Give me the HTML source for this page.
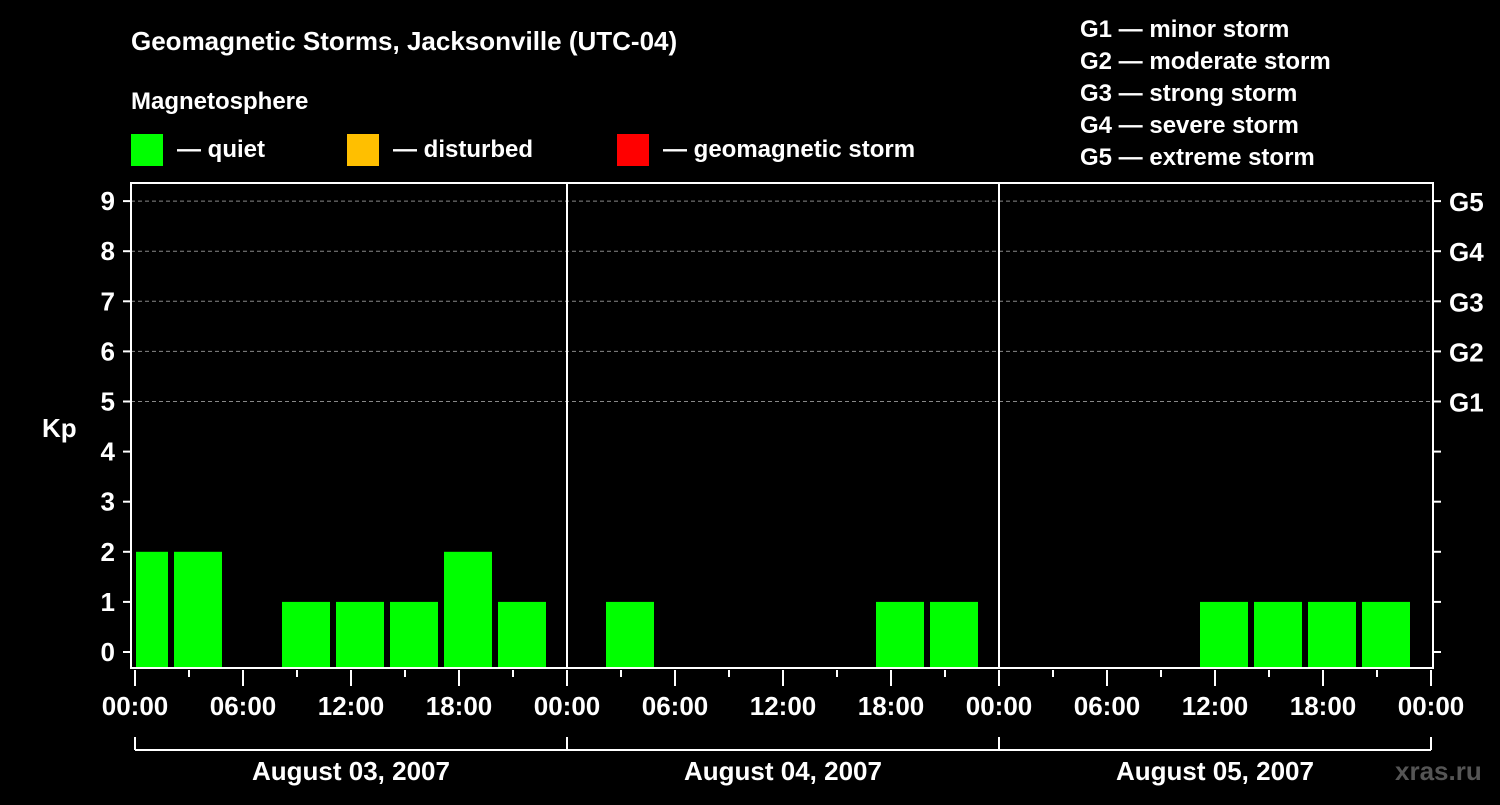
<!DOCTYPE html>
<html><head><meta charset="utf-8"><style>
body{margin:0;background:#000;}
svg text{font-family:"Liberation Sans",sans-serif;font-weight:bold;fill:#fff;}
</style></head><body>
<svg id="chart" width="1500" height="800" xmlns="http://www.w3.org/2000/svg">
<rect width="1500" height="800" fill="#000"/>
<text x="131" y="50" font-size="26">Geomagnetic Storms, Jacksonville (UTC-04)</text>
<text x="131" y="109" font-size="24">Magnetosphere</text>
<g><rect x="131" y="134" width="32" height="32" fill="#00ff00"/><text x="177" y="157" font-size="24">— quiet</text></g>
<g><rect x="347" y="134" width="32" height="32" fill="#ffbf00"/><text x="393" y="157" font-size="24">— disturbed</text></g>
<g><rect x="617" y="134" width="32" height="32" fill="#ff0000"/><text x="663" y="157" font-size="24">— geomagnetic storm</text></g>
<g font-size="24">
<text x="1080" y="37">G1 — minor storm</text>
<text x="1080" y="69">G2 — moderate storm</text>
<text x="1080" y="101">G3 — strong storm</text>
<text x="1080" y="133">G4 — severe storm</text>
<text x="1080" y="165">G5 — extreme storm</text>
</g>
<text x="42" y="437" font-size="26">Kp</text>
<text x="1395" y="780" font-size="26" fill="#555" style="fill:#555">xras.ru</text>
<g id="grid"></g><g id="bars"></g><g id="axes"></g>
</svg>
<script>
const kpValues=[2,2,0,1,1,1,2,1, 0,1,0,0,0,0,1,1, 0,0,0,0,1,1,1,1, 0];
const binStartHours=-1;
const dayLabels=["August 03, 2007","August 04, 2007","August 05, 2007"];
const hourTicks=["00:00","06:00","12:00","18:00"];
const gLabels=["G1","G2","G3","G4","G5"];
const NS="http://www.w3.org/2000/svg";
const L=131,R=1433,T=183,B=668,X0=135,PXH=18;
const x=h=>X0+h*PXH;
const y=v=>652-v*50.1;
function mk(tag,attrs,parent,text){const e=document.createElementNS(NS,tag);for(const k in attrs)e.setAttribute(k,attrs[k]);if(text!=null)e.textContent=text;parent.appendChild(e);return e;}
const grid=document.getElementById('grid'),bars=document.getElementById('bars'),axes=document.getElementById('axes');
for(let k=5;k<=9;k++){const l=mk('line',{x1:L,x2:R,y1:y(k),y2:y(k),stroke:'#888','stroke-dasharray':'4,3','stroke-width':1},grid);

}
kpValues.forEach((v,i)=>{if(v<=0)return;let h0=binStartHours+i*3;let x1=Math.max(x(h0)+3,L+5),x2=Math.min(x(h0+3)-3,R-5);
const color=v>=5?'#ff0000':(v>=4?'#ffbf00':'#00ff00');
const r=mk('rect',{x:x1,y:y(v),width:x2-x1,height:B-y(v),fill:color},bars);

});
mk('rect',{x:L,y:T,width:R-L,height:B-T,fill:'none',stroke:'#fff','stroke-width':2},axes);
for(let d=1;d<3;d++)mk('line',{x1:x(d*24),x2:x(d*24),y1:T,y2:B,stroke:'#fff','stroke-width':2},axes);
for(let k=0;k<=9;k++){
mk('line',{x1:123,x2:L,y1:y(k),y2:y(k),stroke:'#fff','stroke-width':2},axes);
mk('line',{x1:R,x2:R+8,y1:y(k),y2:y(k),stroke:'#fff','stroke-width':2},axes);
const t=mk('text',{x:115,y:y(k)+9,'font-size':26,'text-anchor':'end'},axes,String(k));


if(k>=5){const g=mk('text',{x:1449,y:y(k)+10,'font-size':26},axes,gLabels[k-5]);

}}
for(let h=0;h<=72;h+=3){const major=h%6===0;mk('line',{x1:x(h),x2:x(h),y1:670,y2:major?686:677,stroke:'#fff','stroke-width':2},axes);
if(major){const t=mk('text',{x:x(h),y:715,'font-size':26,'text-anchor':'middle'},axes,hourTicks[(h/6)%4]);

}}
dayLabels.forEach((lab,d)=>{const a=x(d*24),b=x(d*24+24);
mk('line',{x1:a,x2:a,y1:737,y2:750,stroke:'#fff','stroke-width':2},axes);
mk('line',{x1:a,x2:b,y1:750,y2:750,stroke:'#fff','stroke-width':2},axes);
if(d===2)mk('line',{x1:b,x2:b,y1:737,y2:750,stroke:'#fff','stroke-width':2},axes);
const t=mk('text',{x:(a+b)/2,y:780,'font-size':26,'text-anchor':'middle'},axes,lab);

});
</script>
</body></html>
